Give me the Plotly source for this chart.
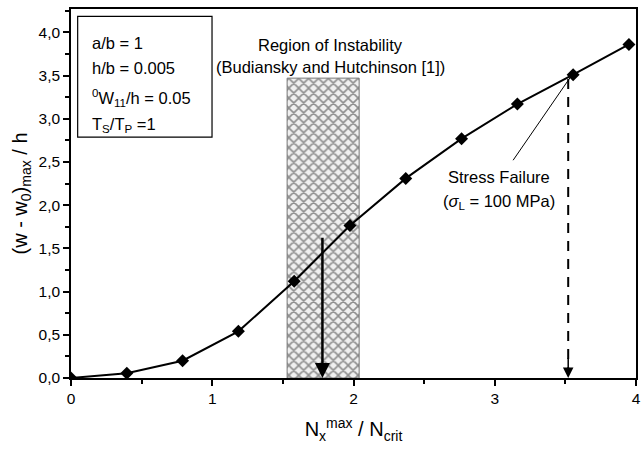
import plotly.graph_objects as go

# data
x_load = [0.0, 0.395, 0.79, 1.185, 1.58, 1.975, 2.37, 2.765, 3.16, 3.555, 3.95]
y_defl = [0.0, 0.055, 0.20, 0.54, 1.12, 1.765, 2.31, 2.77, 3.17, 3.51, 3.86]
region_x = [1.53, 2.04]
region_top = 3.47
solid_arrow = [1.78, 1.64]      # x, start y
dashed_arrow = [3.52, 3.46]     # x, start y
leader = [[3.535, 3.48], [3.13, 2.52]]
y_ticks = [0, 0.5, 1, 1.5, 2, 2.5, 3, 3.5, 4]
y_ticktext = ["0,0", "0,5", "1,0", "1,5", "2,0", "2,5", "3,0", "3,5", "4,0"]
x_ticks = [0, 1, 2, 3, 4]
x_ticktext = ["0", "1", "2", "3", "4"]
box_lines = ["a/b = 1", "h/b = 0.005", "<sup>0</sup>W<sub>11</sub>/h = 0.05",
             "T<sub>S</sub>/T<sub>P</sub> =1"]

FONT = "Liberation Sans, Arial, sans-serif"

fig = go.Figure()

# hatched region
fig.add_trace(go.Scatter(
    x=[region_x[0], region_x[1], region_x[1], region_x[0], region_x[0]],
    y=[0, 0, region_top, region_top, 0],
    mode="lines", fill="toself",
    line=dict(color="#777777", width=1),
    fillcolor="white",
    fillpattern=dict(shape="x", size=7, solidity=0.4, fgcolor="#2a2a2a", bgcolor="#f0f0f0"),
    hoverinfo="skip", showlegend=False))

# main curve
fig.add_trace(go.Scatter(
    x=x_load, y=y_defl, mode="lines+markers",
    line=dict(color="black", width=2),
    marker=dict(symbol="diamond", size=10, color="black"),
    showlegend=False))

# leader line
fig.add_trace(go.Scatter(
    x=[leader[0][0], leader[1][0]], y=[leader[0][1], leader[1][1]],
    mode="lines", line=dict(color="black", width=1), showlegend=False))

# dashed vertical line
fig.add_trace(go.Scatter(
    x=[dashed_arrow[0], dashed_arrow[0]], y=[dashed_arrow[1], 0.12],
    mode="lines", line=dict(color="black", width=2, dash="10px,8px"), showlegend=False))

annotations = []
# solid arrow
annotations.append(dict(x=solid_arrow[0], y=0, ax=solid_arrow[0], ay=solid_arrow[1],
                        xref="x", yref="y", axref="x", ayref="y", text="",
                        showarrow=True, arrowhead=2, arrowsize=1.2, arrowwidth=2.5,
                        arrowcolor="black"))
# dashed arrow head
annotations.append(dict(x=dashed_arrow[0], y=0, ax=dashed_arrow[0], ay=0.25,
                        xref="x", yref="y", axref="x", ayref="y", text="",
                        showarrow=True, arrowhead=2, arrowsize=1.4, arrowwidth=1.5,
                        arrowcolor="black"))

LBL = dict(size=16.5, family=FONT, color="black")
annotations.append(dict(x=1.84, y=3.85, xref="x", yref="y", text="Region of Instability",
                        showarrow=False, font=LBL))
annotations.append(dict(x=1.84, y=3.60, xref="x", yref="y", text="(Budiansky and Hutchinson [1])",
                        showarrow=False, font=LBL))
annotations.append(dict(x=3.03, y=2.33, xref="x", yref="y", text="Stress Failure",
                        showarrow=False, font=LBL))
annotations.append(dict(x=3.03, y=2.04, xref="x", yref="y",
                        text="(<i>σ</i><sub>L</sub> = 100 MPa)",
                        showarrow=False, font=LBL))

box_y = [0.908, 0.840, 0.759, 0.686]
for t, yy in zip(box_lines, box_y):
    annotations.append(dict(x=0.033, y=yy, xref="paper", yref="paper", text=t,
                            xanchor="left", yanchor="middle", showarrow=False,
                            font=dict(size=16.5, family=FONT, color="black")))

fig.update_layout(
    width=644, height=450,
    margin=dict(l=71, r=3, t=9, b=72),
    plot_bgcolor="white", paper_bgcolor="white",
    font=dict(family=FONT, color="black"),
    annotations=annotations,
    shapes=[dict(type="rect", xref="paper", yref="paper", x0=0.0118, x1=0.2496,
                 y0=0.653, y1=0.980, line=dict(color="black", width=1.2))],
    xaxis=dict(range=[0, 4], showgrid=False, zeroline=False, showline=True,
               linecolor="black", linewidth=1.5, mirror=True,
               ticks="outside", ticklen=6, tickwidth=1.5, tickcolor="black",
               tickvals=x_ticks, ticktext=x_ticktext, tickfont=dict(size=15.5),
               minor=dict(ticks="outside", dtick=0.5, ticklen=4, tickwidth=1.5, tickcolor="black"),
               title=dict(text="N<sub>x</sub><sup>max</sup> / N<sub>crit</sub>",
                          font=dict(size=20), standoff=16)),
    yaxis=dict(range=[0, 4.27], showgrid=False, zeroline=False, showline=True,
               linecolor="black", linewidth=1.5, mirror=True,
               ticks="outside", ticklen=6, tickwidth=1.5, tickcolor="black",
               tickvals=y_ticks, ticktext=y_ticktext, tickfont=dict(size=15.5),
               minor=dict(ticks="outside", dtick=0.25, ticklen=4, tickwidth=1.5, tickcolor="black"),
               title=dict(text="(w - w<sub>0</sub>)<sub>max</sub> / h",
                          font=dict(size=20), standoff=6)),
)

fig.write_html("out.html")
